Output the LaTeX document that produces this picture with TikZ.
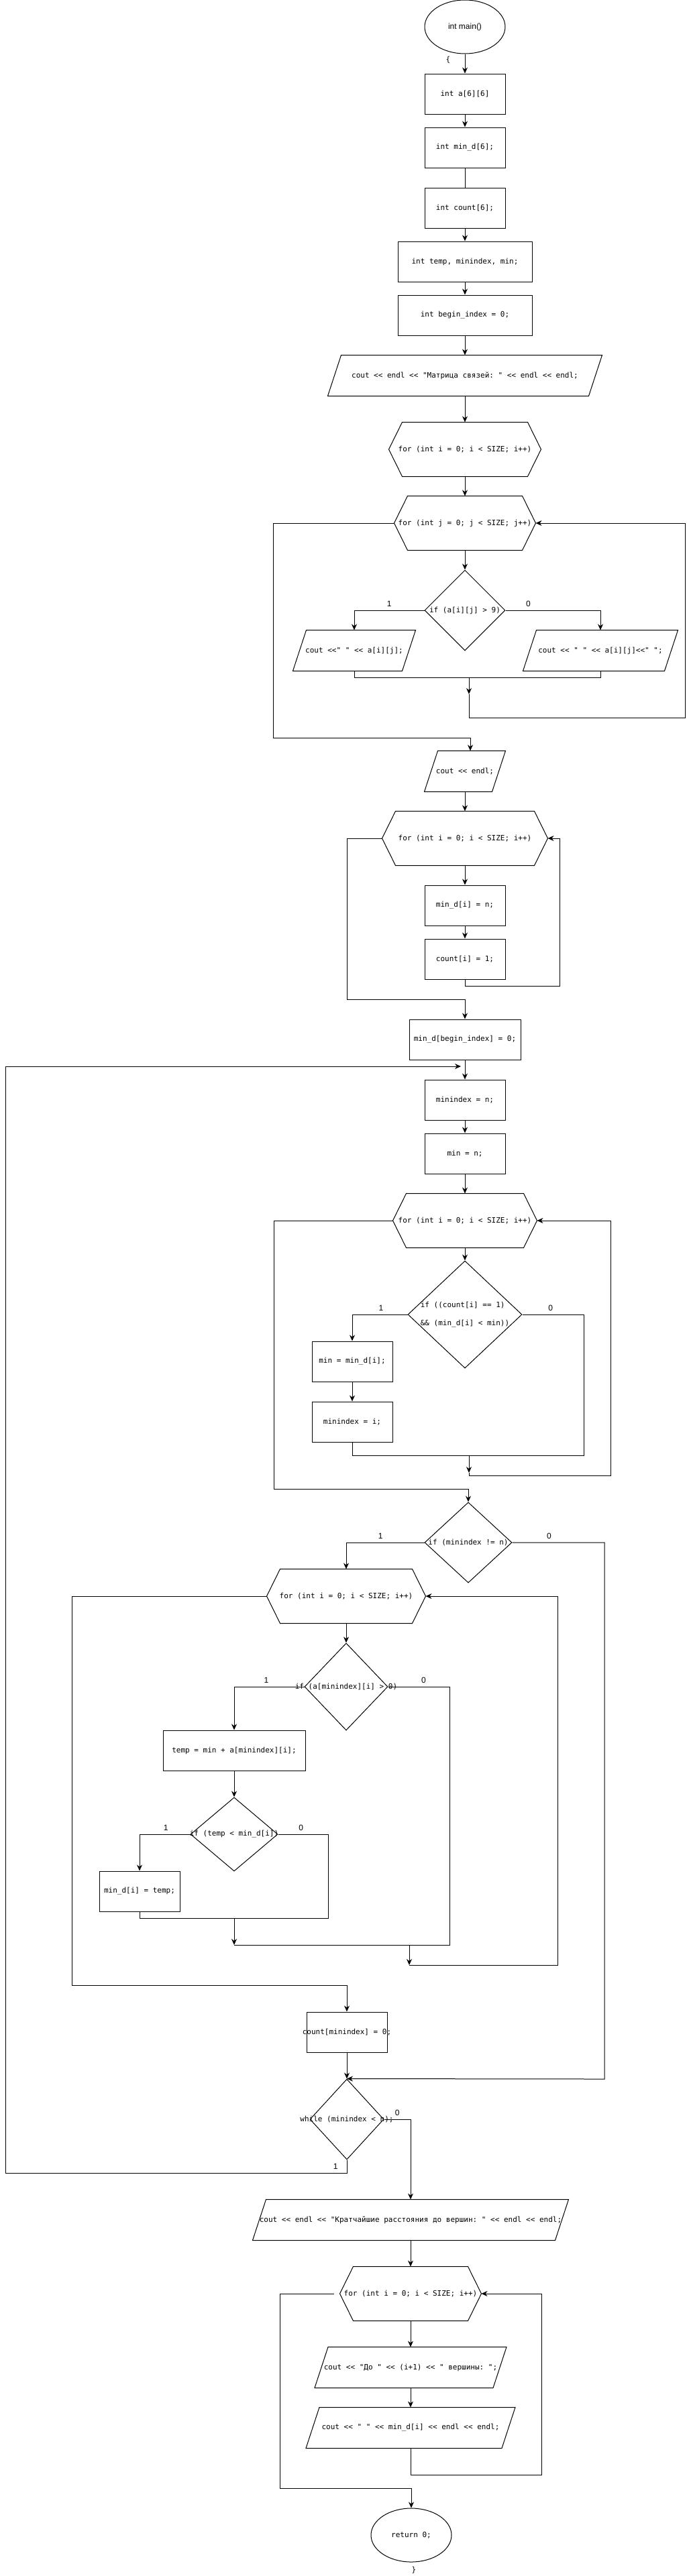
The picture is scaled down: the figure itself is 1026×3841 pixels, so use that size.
\documentclass[tikz,border=0pt]{standalone}
\usepackage{fontspec}
\setmainfont{Liberation Sans}
\setmonofont{DejaVu Sans Mono}
\usepackage{tikz}
\usetikzlibrary{arrows.meta, shapes.geometric}

\begin{document}
\begin{tikzpicture}[x=1pt, y=-1pt, line width=1pt,
  >={Stealth[length=9pt, width=8pt]},
  nowidth/.style={execute at begin node={\hbox to 0pt\bgroup\hss}, execute at end node={\hss\egroup}},
  code/.style={font=\ttfamily\fontsize{11pt}{13pt}\selectfont, inner sep=0pt, nowidth},
  box/.style={code, draw, minimum width=#1pt, minimum height=60pt},
  io/.style={code, minimum width=#1pt-20pt, minimum height=60pt},
  hexa/.style={code, minimum width=#1pt, minimum height=80pt},
  cond/.style 2 args={code, draw, diamond, minimum width=#1pt, minimum height=#2pt},
  term/.style={draw, ellipse, minimum width=120pt, minimum height=80pt, inner sep=0pt},
  lbl/.style={font=\fontsize{12pt}{14pt}\selectfont, inner sep=1pt}]
  \useasboundingbox (0,0) rectangle (1026,3841);

  \node[term, font=\fontsize{12pt}{14pt}\selectfont] (start) at (693,40) {int main()};
  \node[code] (brace) at (668,89) {\{};
  \node[box=120] (arrA) at (693,140) {int a[6][6]};
  \node[box=120] (arrMin) at (693,220) {int min\_d[6];};
  \node[box=120] (arrCnt) at (693,310) {int count[6];};
  \node[box=200] (vars) at (693,390) {int temp, minindex, min;};
  \node[box=200] (begIdx) at (693,470) {int begin\_index = 0;};
  \node[io=408] (outMat) at (693,560) {cout << endl << "Матрица связей: " << endl << endl;};
  \node[hexa=226] (forI) at (693,670) {for (int i = 0; i < SIZE; i++)};
  \node[hexa=210] (forJ) at (693,780) {for (int j = 0; j < SIZE; j++)};
  \node[cond={120}{120}] (ifBig) at (693,910) {if (a[i][j] > 9)};
  \node[io=182] (outL) at (528,970) {cout <<" " << a[i][j];};
  \node[io=230] (outR) at (895,970) {cout << " " << a[i][j]<<" ";};
  \coordinate (j1) at (699,1010);
  \coordinate (m1) at (699,1035);
  \node[io=120] (outEndl) at (693,1150) {cout << endl;};

  \node[hexa=246] (forInit) at (693,1250) {for (int i = 0; i < SIZE; i++)};
  \node[box=120] (setMinD) at (693,1350) {min\_d[i] = n;};
  \node[box=120] (setCnt) at (693,1430) {count[i] = 1;};
  \node[box=166] (setBeg) at (693,1550) {min\_d[begin\_index] = 0;};
  \coordinate (back) at (687,1590);
  \node[box=120] (setIdx) at (693,1640) {minindex = n;};
  \node[box=120] (setMin) at (693,1720) {min = n;};

  \node[hexa=214] (forSel) at (693,1820) {for (int i = 0; i < SIZE; i++)};
  \node[cond={170}{160}] (ifSel) at (693,1960)
    {\begin{tabular}{@{}l@{}}if ((count[i] == 1)\\[14pt]\&\& (min\_d[i] < min))\end{tabular}};
  \node[box=120] (takeMin) at (525,2030) {min = min\_d[i];};
  \node[box=120] (takeIdx) at (525,2120) {minindex = i;};
  \coordinate (j3) at (699,2170);
  \coordinate (m3) at (699,2196);

  \node[cond={130}{120}] (ifFound) at (698,2300) {if (minindex != n)};
  \node[hexa=236] (forUpd) at (516,2380) {for (int i = 0; i < SIZE; i++)};
  \node[cond={124}{130}] (ifEdge) at (516,2515) {if (a[minindex][i] > 0)};
  \node[box=212] (calcTemp) at (349,2610) {temp = min + a[minindex][i];};
  \node[cond={130}{110}] (ifLess) at (349,2735) {if (temp < min\_d[i])};
  \node[box=120] (saveTemp) at (208,2820) {min\_d[i] = temp;};
  \coordinate (j6) at (349,2860);
  \coordinate (m6) at (349,2900);
  \coordinate (j7) at (610,2900);
  \coordinate (m7) at (610,2930);
  \node[box=120] (markIdx) at (517,3030) {count[minindex] = 0;};
  \node[cond={110}{120}] (whileIdx) at (517,3160) {while (minindex < n);};

  \node[io=470] (outDist) at (612,3310) {cout << endl << "Кратчайшие расстояния до вершин: " << endl << endl;};
  \node[hexa=210] (forOut) at (612,3420) {for (int i = 0; i < SIZE; i++)};
  \node[io=285] (outTo) at (612,3530) {cout << "До " << (i+1) << " вершины: ";};
  \node[io=311] (outVal) at (612,3620) {cout << " " << min\_d[i] << endl << endl;};
  \node[term, code] (ret) at (613,3780) {return 0;};
  \node[code] (braceEnd) at (617,3832) {\}};

  \foreach \h in {forI, forJ, forInit, forSel, forUpd, forOut}
    \draw (\h.west) -- ([xshift=20pt]\h.north west) -- ([xshift=-20pt]\h.north east) -- (\h.east)
      -- ([xshift=-20pt]\h.south east) -- ([xshift=20pt]\h.south west) -- cycle;
  \foreach \p in {outMat, outL, outR, outEndl, outDist, outTo, outVal}
    \draw ([xshift=-10pt]\p.south west) -- ([xshift=10pt]\p.north west)
      -- ([xshift=10pt]\p.north east) -- ([xshift=-10pt]\p.south east) -- cycle;

  \draw[->] (start) -- (arrA);
  \draw[->] (arrA) -- (arrMin);
  \draw (arrMin) -- (arrCnt);
  \draw[->] (arrCnt) -- (vars);
  \draw[->] (vars) -- (begIdx);
  \draw[->] (begIdx) -- (outMat);
  \draw[->] (outMat) -- (forI);
  \draw[->] (forI) -- (forJ);
  \draw[->] (forJ) -- (ifBig);
  \draw[->] (ifBig.west) -| node[lbl, pos=0.25, above=4pt] {1} (outL.north);
  \draw[->] (ifBig.east) -| node[lbl, pos=0.12, above=4pt] {0} (outR.north);
  \draw (outL.south) |- (j1);
  \draw (outR.south) |- (j1);
  \draw[->] (j1) -- (m1);
  \draw[->] (m1) |- (1021,1070) |- (forJ.east);
  \draw[->] (forJ.west) -| (407,1100) -| ([xshift=8pt]outEndl.north);
  \draw[->] (outEndl) -- (forInit);

  \draw[->] (forInit) -- (setMinD);
  \draw[->] (setMinD) -- (setCnt);
  \draw[->] (setCnt.south) |- (834,1470) |- (forInit.east);
  \draw[->] (forInit.west) -| (517,1490) -| (setBeg.north);
  \draw[->] (setBeg) -- (setIdx);
  \draw[->] (setIdx) -- (setMin);
  \draw[->] (setMin) -- (forSel);

  \draw[->] (forSel) -- (ifSel);
  \draw[->] (ifSel.west) -| node[lbl, pos=0.24, above=4pt] {1} (takeMin.north);
  \draw[->] (takeMin) -- (takeIdx);
  \draw (ifSel.east) -| node[lbl, pos=0.23, above=4pt] {0} (870,2170) -- (j3);
  \draw (takeIdx.south) |- (j3);
  \draw[->] (j3) -- (m3);
  \draw[->] (m3) |- (910,2200) |- (forSel.east);
  \draw[->] (forSel.west) -| (408,2220) -| (ifFound.north);

  \draw[->] (ifFound.west) -| node[lbl, pos=0.28, above=4pt] {1} (forUpd.north);
  \draw[->] (ifFound.east) -| node[lbl, pos=0.2, above=4pt] {0} (901,3100) -- (whileIdx.north);
  \draw[->] (forUpd) -- (ifEdge);
  \draw[->] (ifEdge.west) -| node[lbl, pos=0.27, above=4pt] {1} (calcTemp.north);
  \draw (ifEdge.east) -| node[lbl, pos=0.29, above=4pt] {0} (670,2900) -- (m6);
  \draw[->] (calcTemp) -- (ifLess);
  \draw[->] (ifLess.west) -| node[lbl, pos=0.24, above=4pt] {1} (saveTemp.north);
  \draw (ifLess.east) -| node[lbl, pos=0.23, above=4pt] {0} (489,2860) -- (j6);
  \draw (saveTemp.south) |- (j6);
  \draw[->] (j6) -- (m6);
  \draw[->] (j7) -- (m7);
  \draw[->] (m7) -| (831,2380) -- (forUpd.east);
  \draw[->] (forUpd.west) -| (107,2960) -| (markIdx.north);
  \draw[->] (markIdx) -- (whileIdx);
  \draw[->] (whileIdx.east) -| node[lbl, pos=0.25, above=4pt] {0} (outDist.north);
  \draw[->] (whileIdx.south) |- node[lbl, pos=0.25, left=12pt] {1} (8,3240) |- (back);

  \draw[->] (outDist) -- (forOut);
  \draw[->] (forOut) -- (outTo);
  \draw[->] (outTo) -- (outVal);
  \draw[->] (outVal.south) |- (807,3690) |- (forOut.east);
  \draw[->] ([xshift=-9pt]forOut.west) -| (417,3710) -| (ret.north);
\end{tikzpicture}
\end{document}
